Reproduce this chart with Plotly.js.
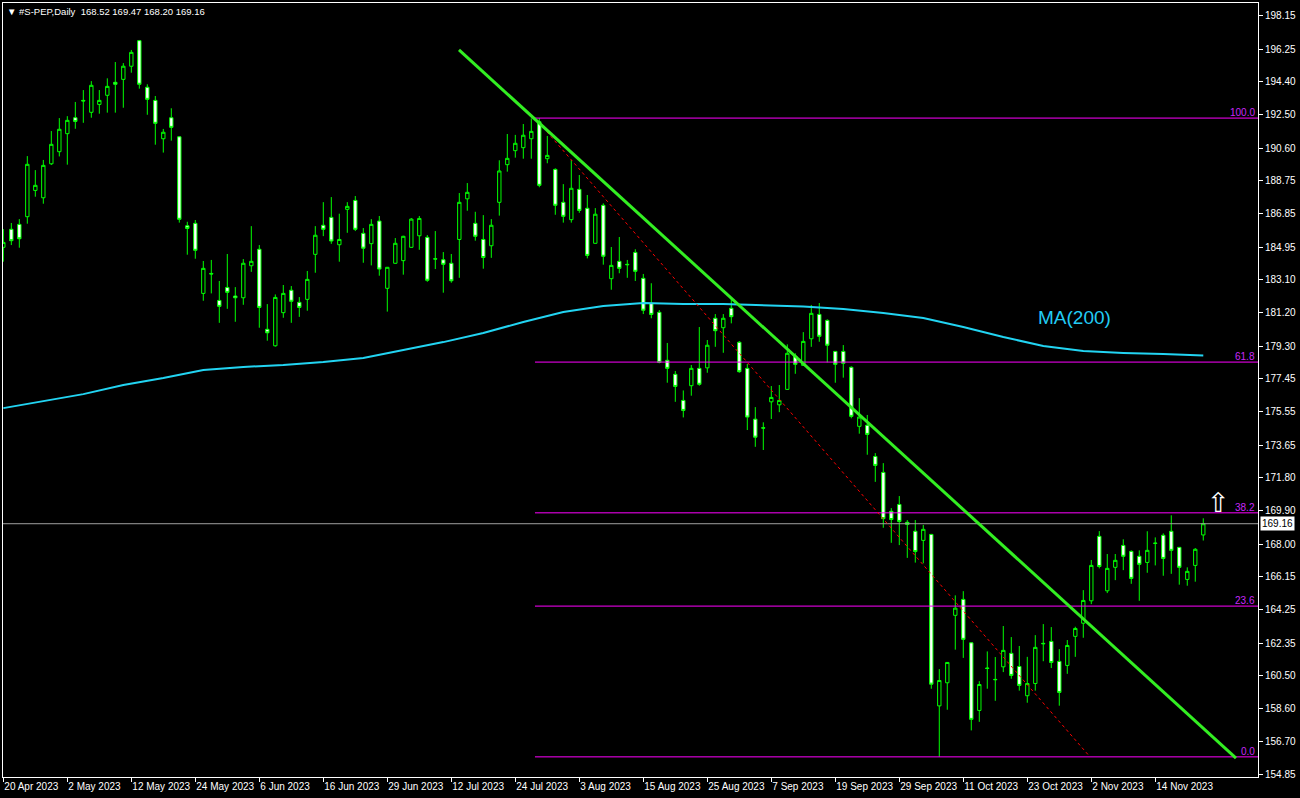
<!DOCTYPE html>
<html>
<head>
<meta charset="utf-8">
<script src="https://cdn.plot.ly/plotly-3.0.1.min.js"></script>
<style>
  html, body { margin: 0; padding: 0; background: #000; }
  #chart { width: 1300px; height: 798px; }
</style>
</head>
<body>
<div id="chart"></div>
<script>
// ---------- DATA ----------
const symbolTitle = "#S-PEP,Daily";

const dates = [
  "2023-04-20","2023-04-21","2023-04-24","2023-04-25","2023-04-26","2023-04-27","2023-04-28",
  "2023-05-01","2023-05-02","2023-05-03","2023-05-04","2023-05-05","2023-05-08","2023-05-09","2023-05-10","2023-05-11","2023-05-12",
  "2023-05-15","2023-05-16","2023-05-17","2023-05-18","2023-05-19","2023-05-22","2023-05-23","2023-05-24","2023-05-25","2023-05-26",
  "2023-05-30","2023-05-31",
  "2023-06-01","2023-06-02","2023-06-05","2023-06-06","2023-06-07","2023-06-08","2023-06-09","2023-06-12","2023-06-13","2023-06-14",
  "2023-06-15","2023-06-16","2023-06-20","2023-06-21","2023-06-22","2023-06-23","2023-06-26","2023-06-27","2023-06-28","2023-06-29","2023-06-30",
  "2023-07-03","2023-07-05","2023-07-06","2023-07-07","2023-07-10","2023-07-11","2023-07-12","2023-07-13","2023-07-14","2023-07-17",
  "2023-07-18","2023-07-19","2023-07-20","2023-07-21","2023-07-24","2023-07-25","2023-07-26","2023-07-27","2023-07-28","2023-07-31",
  "2023-08-01","2023-08-02","2023-08-03","2023-08-04","2023-08-07","2023-08-08","2023-08-09","2023-08-10","2023-08-11","2023-08-14",
  "2023-08-15","2023-08-16","2023-08-17","2023-08-18","2023-08-21","2023-08-22","2023-08-23","2023-08-24","2023-08-25","2023-08-28",
  "2023-08-29","2023-08-30","2023-08-31",
  "2023-09-01","2023-09-05","2023-09-06","2023-09-07","2023-09-08","2023-09-11","2023-09-12","2023-09-13","2023-09-14","2023-09-15",
  "2023-09-18","2023-09-19","2023-09-20","2023-09-21","2023-09-22","2023-09-25","2023-09-26","2023-09-27","2023-09-28","2023-09-29",
  "2023-10-02","2023-10-03","2023-10-04","2023-10-05","2023-10-06","2023-10-09","2023-10-10","2023-10-11","2023-10-12","2023-10-13",
  "2023-10-16","2023-10-17","2023-10-18","2023-10-19","2023-10-20","2023-10-23","2023-10-24","2023-10-25","2023-10-26","2023-10-27",
  "2023-10-30","2023-10-31",
  "2023-11-01","2023-11-02","2023-11-03","2023-11-06","2023-11-07","2023-11-08","2023-11-09","2023-11-10","2023-11-13","2023-11-14",
  "2023-11-15","2023-11-16","2023-11-17","2023-11-20","2023-11-21","2023-11-22"
];

const open = [
  184.94,185.97,186.25,186.69,188.19,187.77,189.71,190.40,191.43,192.34,
  193.33,192.65,193.10,193.62,194.36,194.53,195.28,196.74,194.08,193.33,
  191.14,192.34,191.25,186.17,186.31,182.31,183.45,181.91,182.65,182.16,
  182.06,183.89,184.83,180.26,179.32,181.21,182.49,181.80,181.97,184.54,
  186.20,186.65,185.09,187.11,187.62,185.74,185.15,186.44,182.60,184.03,
  184.18,184.94,185.60,185.51,184.29,184.23,184.03,185.39,187.71,186.31,
  185.39,185.03,187.51,189.66,190.46,190.63,191.14,192.11,190.00,189.39,
  187.51,186.52,188.25,187.17,185.17,187.34,183.15,184.14,183.97,184.65,
  183.17,181.74,181.23,178.49,177.69,176.20,177.04,178.03,178.06,180.89,
  180.35,181.46,179.52,178.03,175.13,174.64,176.12,175.95,176.83,178.73,
  178.20,179.72,181.11,180.77,179.00,179.00,178.09,174.72,174.78,173.00,
  172.09,169.87,170.26,169.24,168.73,168.21,168.55,158.76,160.08,163.93,
  164.84,162.36,158.50,160.92,160.25,160.99,161.76,161.01,159.34,160.04,
  162.33,162.44,161.30,161.07,162.73,163.48,164.76,168.44,165.33,166.67,
  167.92,167.58,167.30,166.95,168.03,168.50,168.73,167.81,165.98,166.78,
  168.52
];
const high = [
  185.98,186.33,186.55,190.15,189.35,189.93,191.58,192.32,192.43,193.24,
  193.92,194.43,193.92,194.59,195.52,195.46,196.21,196.78,194.25,193.58,
  191.70,192.88,191.29,186.40,186.50,184.16,184.22,183.02,184.56,182.67,
  184.27,186.15,185.07,181.70,182.25,182.79,182.73,182.10,183.59,186.15,
  187.52,187.81,186.86,187.52,187.87,186.04,186.55,186.73,183.82,185.47,
  185.60,186.61,186.73,185.64,185.87,184.67,184.56,188.04,188.61,186.97,
  186.78,186.55,189.91,191.41,191.36,191.98,192.30,192.32,191.30,189.45,
  188.55,189.93,189.07,187.93,187.18,187.45,184.96,185.53,184.22,184.83,
  183.42,182.89,181.36,179.48,177.88,176.77,178.22,180.39,179.65,181.13,
  181.13,182.03,179.59,178.28,175.82,174.95,177.02,177.08,179.40,178.89,
  180.10,181.65,181.76,180.83,179.02,179.36,178.15,176.33,175.37,173.19,
  172.62,170.05,170.74,169.37,169.37,169.09,168.58,160.86,161.26,165.07,
  165.31,162.40,160.17,161.87,161.55,163.32,162.69,162.18,161.56,162.80,
  163.43,163.26,162.00,162.52,163.28,165.37,167.09,168.74,167.43,167.43,
  168.27,167.64,167.64,168.73,168.38,168.61,169.64,167.83,166.67,167.77,
  169.47
];
const low = [
  184.12,185.07,184.92,186.29,187.83,187.43,189.64,190.13,189.66,191.71,
  192.05,192.34,192.57,192.63,192.63,192.91,194.91,194.00,192.51,190.80,
  190.35,191.03,186.35,184.52,184.29,181.89,182.31,180.63,181.43,180.69,
  181.66,183.54,180.35,179.61,179.27,180.92,180.63,180.97,181.32,183.49,
  185.58,185.14,184.12,185.77,185.87,184.06,183.91,183.32,181.27,184.00,
  183.38,184.92,184.80,182.97,183.70,182.35,182.92,183.20,187.03,185.32,
  183.72,184.34,186.75,189.26,190.06,190.00,190.00,188.37,189.74,186.80,
  186.35,186.35,186.91,184.31,185.15,183.95,182.52,183.46,183.20,183.02,
  181.13,180.89,178.32,177.21,176.12,175.23,176.47,177.04,177.78,179.26,
  178.92,180.60,177.78,174.51,173.55,173.37,175.14,175.53,176.80,177.72,
  178.18,179.26,179.55,178.37,177.21,177.50,175.18,174.30,173.10,171.55,
  168.93,168.07,167.94,167.21,166.94,166.90,159.74,155.85,158.54,161.97,
  161.50,157.36,157.85,159.74,159.05,160.69,160.31,159.63,158.94,159.63,
  161.31,160.92,158.77,160.59,161.56,162.65,164.57,166.61,165.20,165.94,
  166.51,165.73,164.76,166.36,166.78,166.19,166.30,165.68,165.62,165.85,
  168.20
];
const close = [
  185.22,185.32,185.43,189.68,188.48,189.62,190.82,191.68,192.19,192.13,
  193.30,194.19,193.33,194.13,194.25,195.28,196.07,194.25,193.39,192.02,
  191.51,191.79,186.54,186.02,184.77,183.74,183.42,181.57,182.37,182.06,
  184.03,184.14,181.51,180.06,182.08,182.31,181.86,181.51,183.11,185.63,
  185.97,185.30,185.39,187.28,185.97,184.89,186.25,183.70,183.80,185.17,
  185.57,186.55,186.59,183.06,184.27,183.97,183.03,187.51,188.08,185.57,
  184.36,186.20,189.30,190.02,190.88,191.34,191.56,188.48,190.19,187.34,
  186.71,188.31,187.05,184.48,186.83,184.43,183.91,183.74,183.95,183.57,
  181.35,181.11,178.37,178.03,177.00,175.63,178.03,177.12,179.35,180.18,
  180.89,180.98,177.84,175.25,174.10,174.62,176.37,176.20,178.89,178.26,
  179.57,181.17,179.86,179.35,178.26,178.32,175.29,175.25,174.26,172.49,
  169.45,169.40,169.29,169.12,167.57,168.84,160.00,160.21,161.24,164.34,
  162.56,157.99,159.98,160.90,160.27,161.93,160.50,159.93,160.04,162.10,
  162.31,161.24,159.53,162.21,163.18,164.78,166.78,166.72,166.61,167.07,
  167.30,166.04,166.84,167.64,168.05,167.18,167.64,166.67,166.44,167.70,
  169.16
];

// MA(200) read at sampled bars
const maIdx = [0,5,10,15,20,25,30,35,40,45,50,55,60,65,70,75,80,85,90,95,100,105,110,115,120,125,130,135,140,145,150];
const maVal = [175.76,176.16,176.56,177.08,177.48,177.94,178.11,178.22,178.39,178.62,179.08,179.53,180.05,180.68,181.25,181.59,181.76,181.70,181.70,181.65,181.56,181.42,181.19,180.90,180.39,179.82,179.31,179.02,178.91,178.85,178.76];

// axis tick labels
const tickDates = ["2023-04-20","2023-05-02","2023-05-12","2023-05-24","2023-06-06","2023-06-16","2023-06-29","2023-07-12","2023-07-24","2023-08-03","2023-08-15","2023-08-25","2023-09-07","2023-09-19","2023-09-29","2023-10-11","2023-10-23","2023-11-02","2023-11-14"];
const tickLabels = ["20 Apr 2023","2 May 2023","12 May 2023","24 May 2023","6 Jun 2023","16 Jun 2023","29 Jun 2023","12 Jul 2023","24 Jul 2023","3 Aug 2023","15 Aug 2023","25 Aug 2023","7 Sep 2023","19 Sep 2023","29 Sep 2023","11 Oct 2023","23 Oct 2023","2 Nov 2023","14 Nov 2023"];
const yTicks = [198.15,196.25,194.40,192.50,190.60,188.75,186.85,184.95,183.10,181.20,179.30,177.45,175.55,173.65,171.80,169.90,168.00,166.15,164.25,162.35,160.50,158.60,156.70,154.85];

// drawn objects (anchor points in bar index / price)
const trendX = [56.96, 154.09];
const trendY = [196.21, 155.78];
const fibX = [66.46, 135.84];
const fibY = [192.32, 155.85];
const fibLevels = [100.0, 61.8, 38.2, 23.6, 0.0];
const maLabel = "MA(200)";
const maLabelPos = [133.96, 180.96];
const arrowPos = [151.96, 170.40];

// ---------- CHART ----------
const xIdx = dates.map((d, i) => i);
const xRange = [-0.04, 156.84];
const yRange = [154.70, 198.89];
const FONT = "Liberation Sans, DejaVu Sans, Arial, sans-serif";
const GREEN = "#00ff00";

const candles = {
  type: "candlestick",
  x: xIdx, open: open, high: high, low: low, close: close,
  increasing: { line: { color: GREEN, width: 1 }, fillcolor: "#000000" },
  decreasing: { line: { color: GREEN, width: 1 }, fillcolor: "#ffffff" },
  whiskerwidth: 0,
  hoverinfo: "skip",
  showlegend: false
};

const ma = {
  type: "scatter", mode: "lines",
  x: maIdx, y: maVal,
  line: { color: "#22d4f2", width: 2 },
  hoverinfo: "skip", showlegend: false
};

const fibHi = fibY[0], fibLo = fibY[1];
const shapes = [];
const annotations = [];
fibLevels.forEach(lv => {
  const yv = fibLo + (fibHi - fibLo) * lv / 100;
  shapes.push({ type: "line", xref: "x", yref: "y", x0: fibX[0], x1: xRange[1], y0: yv, y1: yv,
    line: { color: "#ff00ff", width: 1 }, layer: "above" });
  annotations.push({ xref: "paper", yref: "y", x: 1, y: yv, xanchor: "right", yanchor: "bottom",
    xshift: -1, yshift: -2, text: lv.toFixed(1), showarrow: false,
    font: { family: FONT, size: 10, color: "#c828f8" } });
});
// current price line
const last = close[close.length - 1];
shapes.push({ type: "line", xref: "x", yref: "y", x0: xRange[0], x1: xRange[1], y0: last, y1: last,
  line: { color: "#a0a0a0", width: 1 }, layer: "above" });
// fibo diagonal
shapes.push({ type: "line", xref: "x", yref: "y", x0: fibX[0], x1: fibX[1], y0: fibY[0], y1: fibY[1],
  line: { color: "#ff0000", width: 1, dash: "dot" }, layer: "above" });
// trend line
shapes.push({ type: "line", xref: "x", yref: "y", x0: trendX[0], x1: trendX[1], y0: trendY[0], y1: trendY[1],
  line: { color: "#33ee22", width: 3 }, layer: "above" });

const n = close.length - 1;
annotations.push({ xref: "paper", yref: "paper", x: 0, y: 1, xanchor: "left", yanchor: "top",
  xshift: 2, yshift: -1, showarrow: false,
  text: "▼ " + symbolTitle + "  " + [open[n], high[n], low[n], close[n]].map(v => v.toFixed(2)).join(" "),
  font: { family: FONT, size: 9.5, color: "#ffffff" } });
annotations.push({ xref: "x", yref: "y", x: maLabelPos[0], y: maLabelPos[1], showarrow: false,
  text: maLabel, font: { family: FONT, size: 19, color: "#22ccf5" } });
annotations.push({ xref: "x", yref: "y", x: arrowPos[0], y: arrowPos[1], showarrow: false,
  text: "⇧", font: { family: "DejaVu Sans, sans-serif", size: 27, color: "#ffffff" } });
annotations.push({ xref: "paper", yref: "y", x: 1, y: last, xanchor: "left", yanchor: "middle",
  xshift: 2, showarrow: false, text: last.toFixed(2), bgcolor: "#ffffff", borderpad: 1,
  font: { family: FONT, size: 10, color: "#000000" } });

const layout = {
  width: 1300, height: 798,
  margin: { l: 3, r: 42, t: 3, b: 21, pad: 0 },
  paper_bgcolor: "#000000", plot_bgcolor: "#000000",
  showlegend: false,
  boxgap: 0.4,
  xaxis: {
    type: "linear", range: xRange,
    tickvals: tickDates.map(d => dates.indexOf(d)), ticktext: tickLabels,
    tickangle: 0,
    ticks: "outside", ticklen: 4, tickcolor: "#ffffff", tickwidth: 1,
    ticklabelposition: "outside right",
    showline: true, linecolor: "#ffffff", linewidth: 1, mirror: true,
    showgrid: false, zeroline: false,
    tickfont: { family: FONT, size: 10, color: "#ffffff" },
    rangeslider: { visible: false }, fixedrange: true
  },
  yaxis: {
    side: "right", range: yRange,
    tickvals: yTicks, ticktext: yTicks.map(v => v.toFixed(2)),
    ticks: "outside", ticklen: 4, tickcolor: "#ffffff", tickwidth: 1,
    showline: true, linecolor: "#ffffff", linewidth: 1, mirror: true,
    showgrid: false, zeroline: false,
    tickfont: { family: FONT, size: 10, color: "#ffffff" },
    fixedrange: true
  },
  shapes: shapes,
  annotations: annotations
};

Plotly.newPlot("chart", [candles, ma], layout, { displayModeBar: false, staticPlot: true });
</script>
</body>
</html>
